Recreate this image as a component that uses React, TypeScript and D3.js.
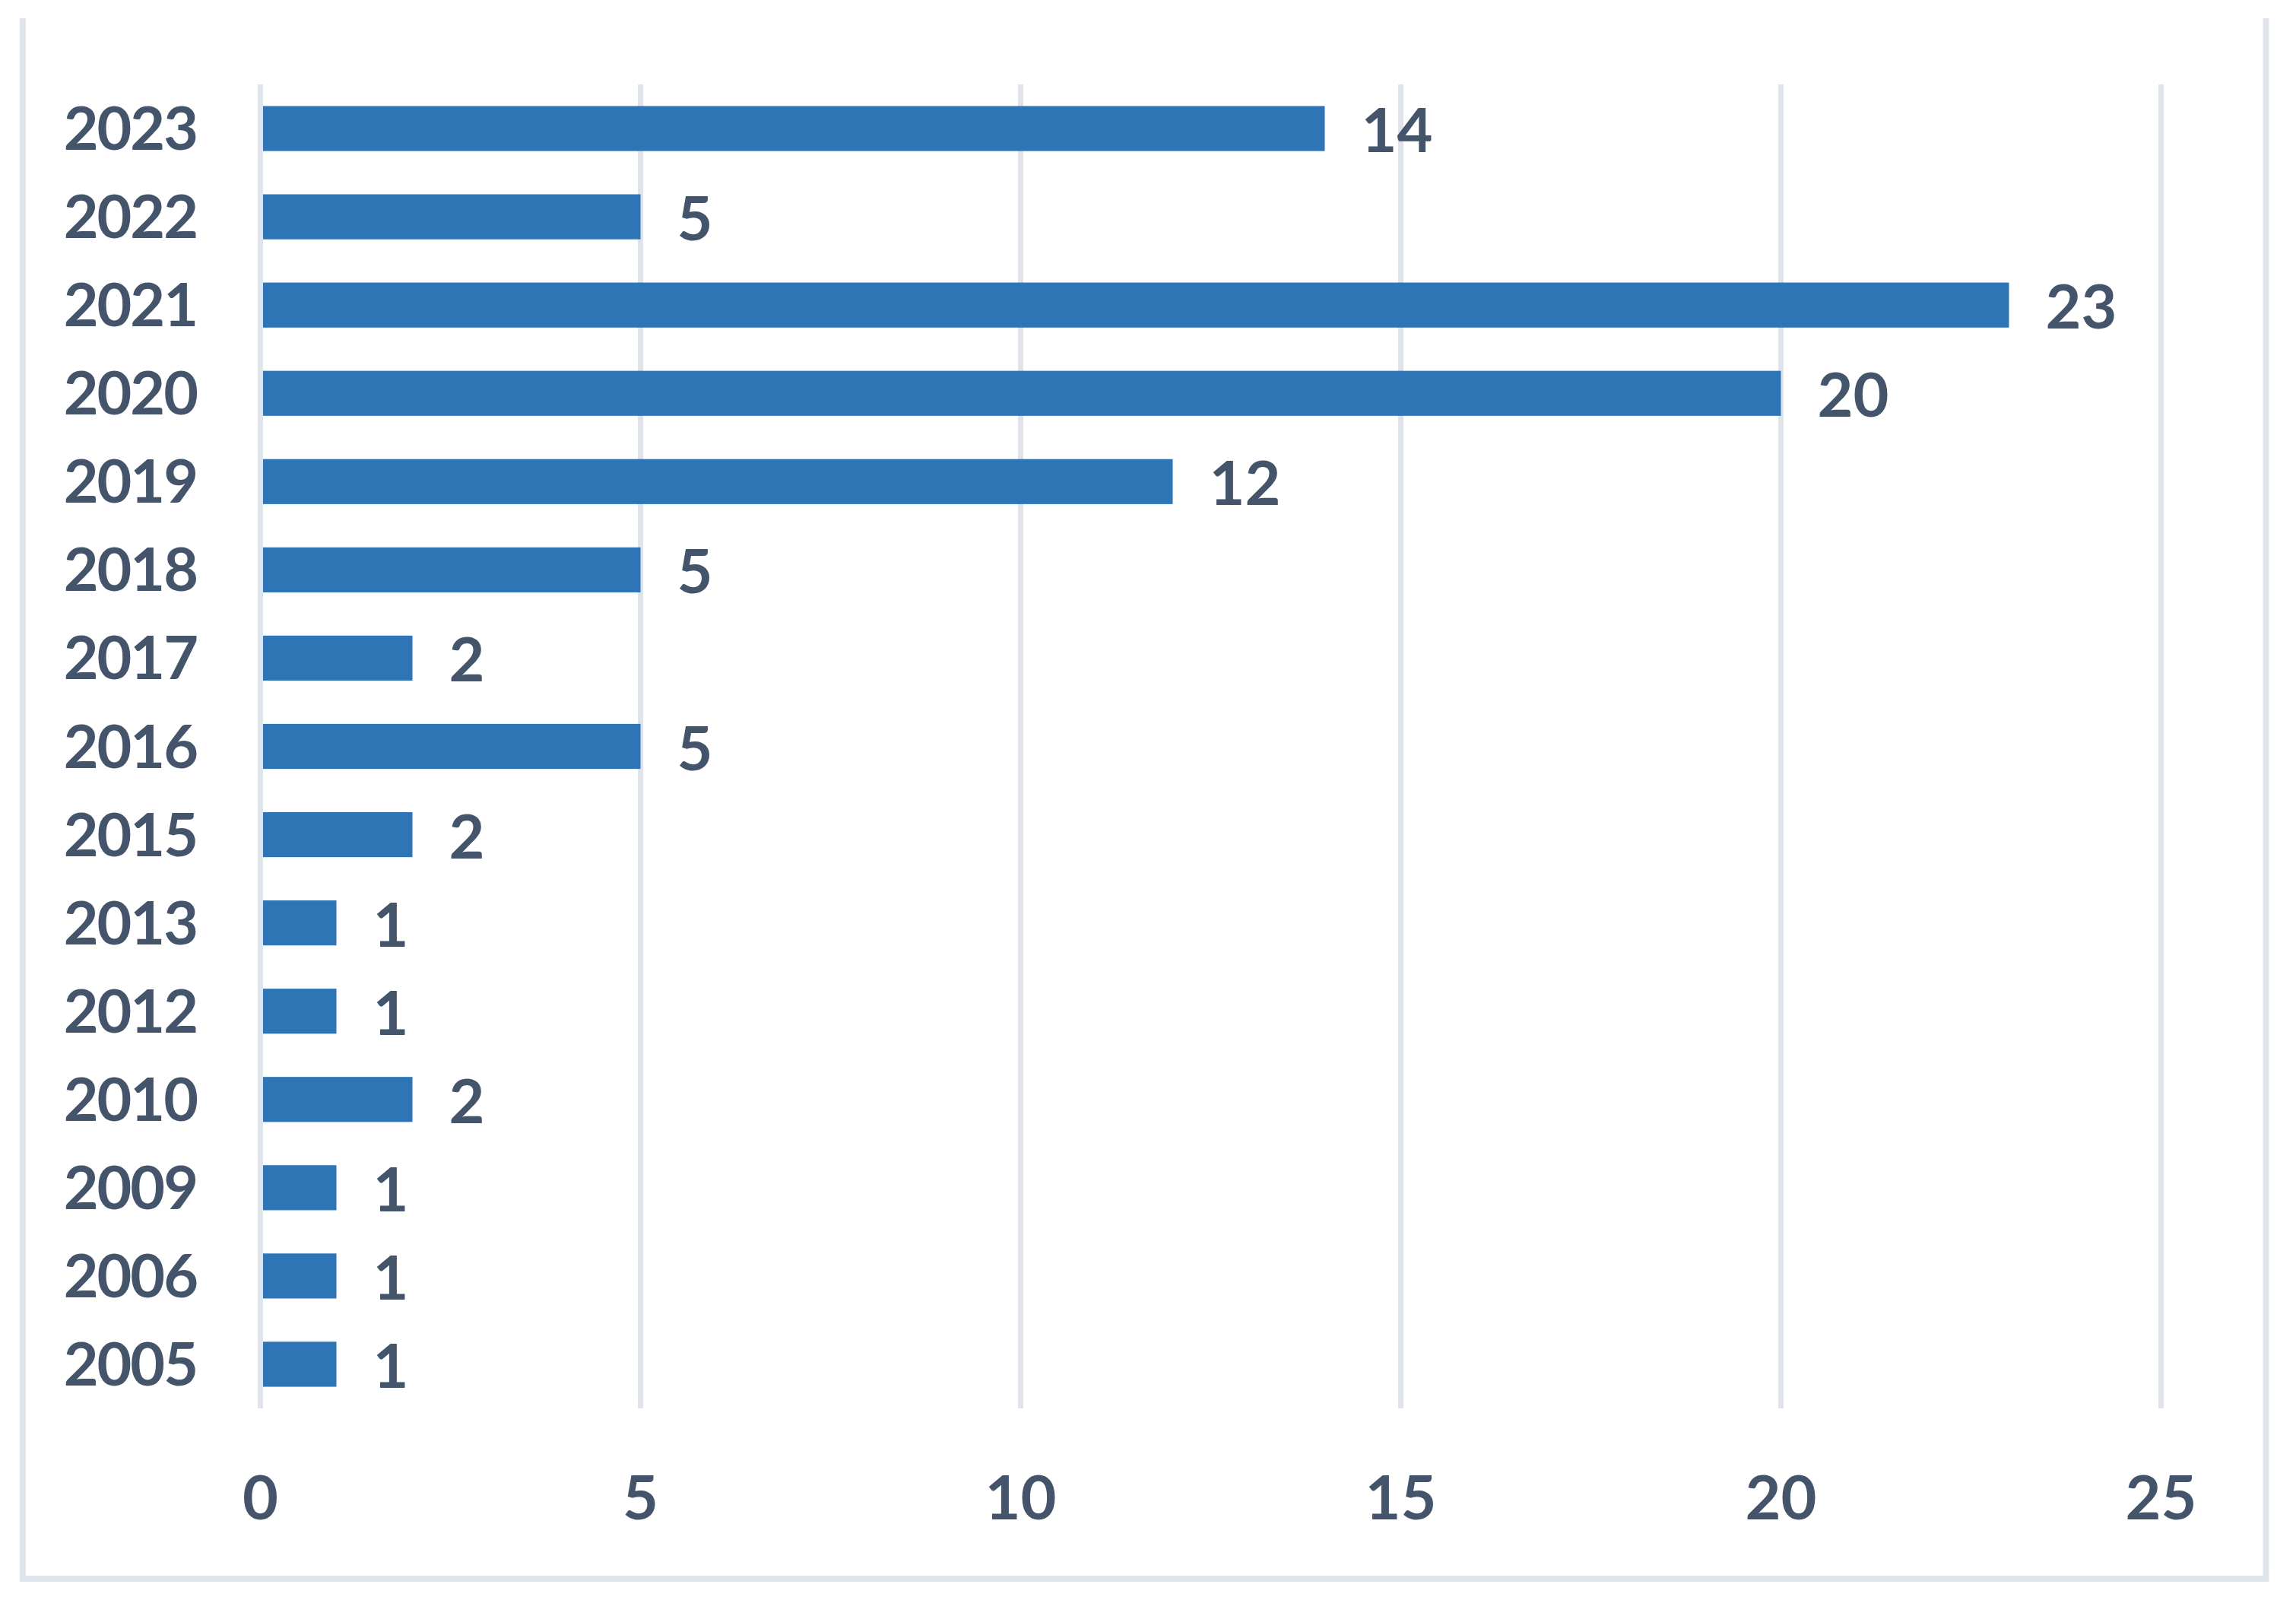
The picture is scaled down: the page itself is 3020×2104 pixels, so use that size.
import React from 'react';
import * as d3 from 'd3';

const years = ['2023', '2022', '2021', '2020', '2019', '2018', '2017', '2016', '2015', '2013', '2012', '2010', '2009', '2006', '2005'];
const counts = [14, 5, 23, 20, 12, 5, 2, 5, 2, 1, 1, 2, 1, 1, 1];
const xTicks = [0, 5, 10, 15, 20, 25];

const WIDTH = 3020;
const HEIGHT = 2104;
const TOP = 111;
const BOTTOM = 1852;
const X0 = 342.5;
const X1 = 2842.5;

const BAR = '#2E75B6';
const TEXT = '#44546A';
const GRID = '#DFE4EC';
const FONT = 'Lato, "Open Sans", sans-serif';

const data = years.map((year, i) => ({ year, value: counts[i] }));

const App = () => {
  const xScale = d3.scaleLinear()
    .domain([0, 25])
    .range([X0, X1]);
  const yScale = d3.scaleBand()
    .domain(years)
    .range([TOP, BOTTOM])
    .paddingInner(0.49)
    .paddingOuter(0.245);

  const bw = yScale.bandwidth();
  const mid = (year: string) => (yScale(year) as number) + bw / 2;

  return (
    <svg
      width={WIDTH}
      height={HEIGHT}
      style={{ position: 'absolute', left: 0, top: 0, background: '#fff' }}
    >
      <path
        d={`M30,24 V2076 H2980.5 V24`}
        fill="none"
        stroke={GRID}
        strokeWidth={8}
      />
      {xTicks.map(t => (
        <line
          key={`g${t}`}
          x1={xScale(t)}
          x2={xScale(t)}
          y1={TOP}
          y2={BOTTOM}
          stroke={GRID}
          strokeWidth={7}
        />
      ))}
      {data.map(d => (
        <rect
          key={d.year}
          x={xScale(0) + 3.5}
          y={yScale(d.year)}
          width={xScale(d.value) - xScale(0) - 3.5}
          height={bw}
          fill={BAR}
        />
      ))}
      <g fontFamily={FONT} fontWeight={700} fontSize={81} fill={TEXT}>
        {data.map(d => (
          <text
            key={`y${d.year}`}
            x={259}
            y={mid(d.year) + 28}
            textAnchor="end"
            fontSize={79}
            letterSpacing={-2}
          >
            {d.year}
          </text>
        ))}
        {data.map(d => (
          <text key={`v${d.year}`} x={xScale(d.value) + 48} y={mid(d.year) + 31}>
            {d.value}
          </text>
        ))}
        {xTicks.map(t => (
          <text key={`t${t}`} x={xScale(t)} y={1998} textAnchor="middle">
            {t}
          </text>
        ))}
      </g>
    </svg>
  );
};

export default App;
